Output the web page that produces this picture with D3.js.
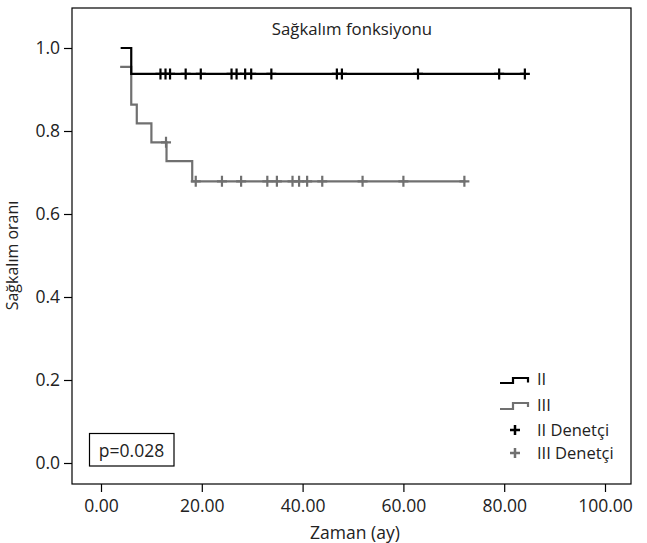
<!DOCTYPE html>
<meta charset="utf-8">
<html>
<head>
<style>
  body { margin: 0; background: #fff; }
  text { font-family: "Open Sans", "Noto Sans", sans-serif; fill: #222; }
  .domain { display: none; }
</style>
<script src="https://cdn.jsdelivr.net/npm/d3@7"></script>
</head>
<body>
<svg width="647" height="543"></svg>
<script>

// Kaplan-Meier steps (time in months, survival proportion)
var iiTimes   = [3.9, 6.0, 84.1];
var iiSurv    = [1.0, 0.9375, 0.9375];
var iiCensor  = [11.8, 12.8, 13.7, 16.8, 19.8, 25.9, 26.9, 28.6, 29.8, 33.8, 46.8, 47.8, 62.9, 79.0, 84.1];

var iiiTimes  = [3.8, 6.0, 7.1, 10.0, 13.0, 18.1, 72.3];
var iiiSurv   = [0.9545, 0.8636, 0.8182, 0.7727, 0.7273, 0.6788, 0.6788];
var iiiCensor = [12.9, 18.8, 24.0, 27.8, 33.0, 34.9, 38.0, 39.3, 40.9, 43.9, 51.9, 60.0, 72.1];

var xTicks = [0, 20, 40, 60, 80, 100];
var yTicks = [0, 0.2, 0.4, 0.6, 0.8, 1.0];

var gray = "#707070";

var svg = d3.select("svg"),
    frame = {left: 72, right: 631, top: 8, bottom: 484};

var x = d3.scaleLinear().domain([0, 100]).range([101, 605]);
var y = d3.scaleLinear().domain([0, 1]).range([463, 48]);

// frame
svg.append("rect")
    .attr("x", frame.left).attr("y", frame.top)
    .attr("width", frame.right - frame.left)
    .attr("height", frame.bottom - frame.top)
    .attr("fill", "none").attr("stroke", "#000").attr("stroke-width", 1.2);

// axes
var xAxis = svg.append("g")
    .attr("transform", "translate(0," + frame.bottom + ")")
    .call(d3.axisBottom(x).tickValues(xTicks).tickFormat(d3.format(".2f")).tickSize(8).tickPadding(8));
xAxis.selectAll("text").attr("font-size", 17.5).attr("fill", "#222");

var yAxis = svg.append("g")
    .attr("transform", "translate(" + frame.left + ",0)")
    .call(d3.axisLeft(y).tickValues(yTicks).tickFormat(d3.format(".1f")).tickSize(8).tickPadding(4));
yAxis.selectAll("text").attr("font-size", 17.5).attr("fill", "#222");

svg.selectAll(".tick line").attr("stroke", "#000").attr("stroke-width", 1.2);

svg.append("text")
    .attr("x", 355).attr("y", 539)
    .attr("text-anchor", "middle").attr("font-size", 17.5)
    .text("Zaman (ay)");

svg.append("text")
    .attr("transform", "translate(18," + y(0.5) + ") rotate(-90)")
    .attr("text-anchor", "middle").attr("font-size", 16)
    .text("Sağkalım oranı");

svg.append("text")
    .attr("x", 352).attr("y", 35)
    .attr("text-anchor", "middle").attr("font-size", 16.8)
    .text("Sağkalım fonksiyonu");

// curves
var step = d3.line()
    .x(function(d) { return x(d[0]); })
    .y(function(d) { return y(d[1]); })
    .curve(d3.curveStepAfter);

function survAt(times, surv, t) {
    var s = surv[0];
    for (var i = 0; i < times.length; i++) if (times[i] <= t) s = surv[i];
    return s;
}

var plus = "M-5,0H5M0,-5.5V5.5";

function drawGroup(times, surv, censor, color) {
    svg.append("path")
        .datum(d3.zip(times, surv))
        .attr("d", step)
        .attr("fill", "none").attr("stroke", color).attr("stroke-width", 2.2);

    svg.append("g").selectAll("path")
        .data(censor)
        .enter().append("path")
        .attr("transform", function(t) { return "translate(" + x(t) + "," + y(survAt(times, surv, t)) + ")"; })
        .attr("d", plus)
        .attr("stroke", color).attr("stroke-width", 2.2).attr("fill", "none");
}

drawGroup(iiiTimes, iiiSurv, iiiCensor, gray);
drawGroup(iiTimes, iiSurv, iiCensor, "#000");

// legend
var legend = svg.append("g").attr("transform", "translate(500,0)");
legend.append("path").attr("d", "M0,383H13V378H28V382.5")
    .attr("fill", "none").attr("stroke", "#000").attr("stroke-width", 2.2);
legend.append("path").attr("d", "M0,409H13V403H28V407")
    .attr("fill", "none").attr("stroke", gray).attr("stroke-width", 2.2);
legend.append("path").attr("transform", "translate(15,430)").attr("d", "M-5,0H5M0,-5V5")
    .attr("stroke", "#000").attr("stroke-width", 2.5);
legend.append("path").attr("transform", "translate(15,453)").attr("d", "M-5,0H5M0,-5V5")
    .attr("stroke", gray).attr("stroke-width", 2.5);

var legendText = ["II", "III", "II Denetçi", "III Denetçi"];
var legendY = [385, 411, 436, 459];
legend.selectAll("text.lg").data(legendText).enter().append("text")
    .attr("class", "lg")
    .attr("x", 37).attr("y", function(d, i) { return legendY[i]; })
    .attr("font-size", 16.5)
    .text(function(d) { return d; });

// p-value box
svg.append("rect")
    .attr("x", 89.5).attr("y", 433.5).attr("width", 84.5).attr("height", 32.5)
    .attr("fill", "#fff").attr("stroke", "#000").attr("stroke-width", 1.2);
svg.append("text")
    .attr("x", 131.5).attr("y", 456.5)
    .attr("text-anchor", "middle").attr("font-size", 17.5)
    .text("p=0.028");

</script>
</body>
</html>
